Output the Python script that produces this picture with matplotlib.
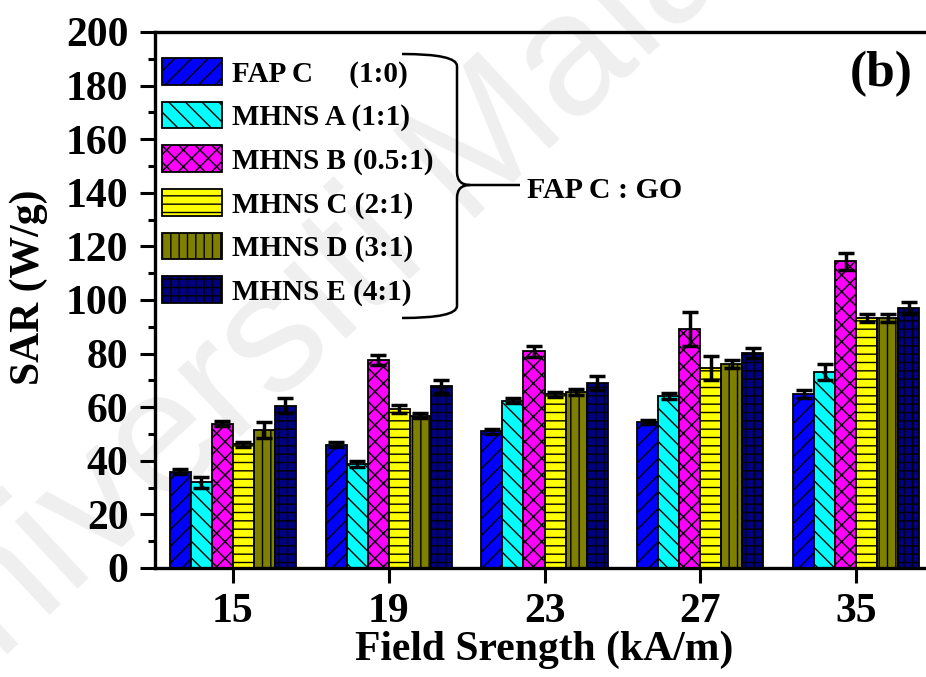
import matplotlib
matplotlib.use("Agg")
import matplotlib.pyplot as plt
import numpy as np
from matplotlib.path import Path
from matplotlib.patches import PathPatch

# data
fields = ["15", "19", "23", "27", "35"]
samples = ["FAP C     (1:0)", "MHNS A (1:1)", "MHNS B (0.5:1)",
           "MHNS C (2:1)", "MHNS D (3:1)", "MHNS E (4:1)"]
fap_c = [36.0, 46.0, 51.0, 54.5, 65.0]
mhns_a = [32.0, 38.8, 62.5, 64.2, 73.0]
mhns_b = [53.8, 77.5, 80.8, 89.2, 114.5]
mhns_c = [46.2, 59.3, 64.8, 74.6, 93.3]
mhns_d = [51.5, 56.8, 65.7, 76.2, 93.3]
mhns_e = [60.5, 67.8, 69.0, 80.2, 97.0]
fap_c_err = [1.0, 1.0, 1.0, 0.8, 1.5]
mhns_a_err = [2.0, 1.0, 1.0, 1.2, 3.0]
mhns_b_err = [1.0, 1.8, 2.0, 6.3, 3.2]
mhns_c_err = [1.0, 1.5, 1.0, 4.5, 1.5]
mhns_d_err = [3.0, 1.0, 1.2, 1.5, 1.5]
mhns_e_err = [2.8, 2.5, 2.5, 2.0, 2.3]

values = [fap_c, mhns_a, mhns_b, mhns_c, mhns_d, mhns_e]
errors = [fap_c_err, mhns_a_err, mhns_b_err, mhns_c_err, mhns_d_err, mhns_e_err]
colors = ["#0000ff", "#00ffff", "#ff00ff", "#ffff00", "#808000", "#000080"]
hatches = ["//", "\\\\", "xx", "--", "||", "++"]

plt.rcParams["font.family"] = ["Liberation Serif", "DejaVu Serif"]
plt.rcParams["font.weight"] = "bold"
plt.rcParams["hatch.linewidth"] = 1.0

fig = plt.figure(figsize=(9.26, 6.77), dpi=100)

# faint watermark behind the plot
fig.text(-0.1, -0.105, "Universiti Malaya", fontsize=125, color="#efefef",
         family="Liberation Sans", weight="normal", rotation=43,
         rotation_mode="anchor", ha="left", va="baseline", zorder=-5)

L, R, B, T = 155, 934, 568, 32
W, H = 926.0, 677.0
ax = fig.add_axes([L / W, 1 - B / H, (R - L) / W, (B - T) / H])
ax.patch.set_alpha(0)

x = np.arange(len(fields))
w = 0.135
for j in range(len(samples)):
    pos = x + (j - 2.5) * w
    ax.bar(pos, values[j], w, color=colors[j], edgecolor="black",
           linewidth=1.3, hatch=hatches[j], label=samples[j], zorder=2)
    ax.errorbar(pos, values[j], yerr=errors[j], fmt="none", ecolor="black",
                elinewidth=2.5, capsize=6, capthick=2.5, zorder=3)

ax.set_xlim(-0.5, 4.5)
ax.set_ylim(0, 200)
ax.set_xticks(x)
ax.set_xticklabels(fields)
ax.set_yticks(np.arange(0, 201, 20))
ax.set_yticks(np.arange(10, 200, 20), minor=True)
ax.tick_params(axis="both", which="major", direction="out", length=11,
               width=2.2, labelsize=30)
ax.tick_params(axis="x", which="major", pad=7)
ax.tick_params(axis="y", which="major", pad=8)
ax.tick_params(axis="y", which="minor", direction="out", length=5, width=2.2)
for s in ax.spines.values():
    s.set_linewidth(2.4)

ax.set_xlabel("Field Srength (kA/m)", fontsize=30, fontweight="bold", labelpad=0)
ax.set_ylabel("SAR (W/g)", fontsize=30, fontweight="bold")
ax.yaxis.set_label_coords(-0.137, 0.524)

leg = ax.legend(loc="upper left", bbox_to_anchor=((162 - L) / (R - L), (B - 58) / (B - T)),
                frameon=False, fontsize=21, handlelength=2.05, handleheight=1.03,
                handletextpad=0.35, labelspacing=0.48, borderpad=0, borderaxespad=0)

ax.text(1 - (R - 913) / (R - L), (B - 74) / (B - T), "(b)", transform=ax.transAxes,
        fontsize=37, fontweight="bold", ha="right", va="center")


def px(a, b):
    return ((a - L) / (R - L), (B - b) / (B - T))


verts = [px(402, 54), px(457, 54), px(457, 66),
         px(457, 172),
         px(457, 185), px(470, 185),
         px(520, 185),
         px(470, 185),
         px(457, 185), px(457, 198),
         px(457, 306),
         px(457, 318), px(402, 318)]
codes = [Path.MOVETO, Path.CURVE3, Path.CURVE3,
         Path.LINETO,
         Path.CURVE3, Path.CURVE3,
         Path.LINETO,
         Path.MOVETO,
         Path.CURVE3, Path.CURVE3,
         Path.LINETO,
         Path.CURVE3, Path.CURVE3]
ax.add_patch(PathPatch(Path(verts, codes), transform=ax.transAxes, fill=False,
                       lw=1.8, color="black", clip_on=False))
ax.text(*px(527, 190), "FAP C : GO", transform=ax.transAxes, fontsize=21.5,
        fontweight="bold", ha="left", va="center")

fig.savefig("out.png", dpi=100)
